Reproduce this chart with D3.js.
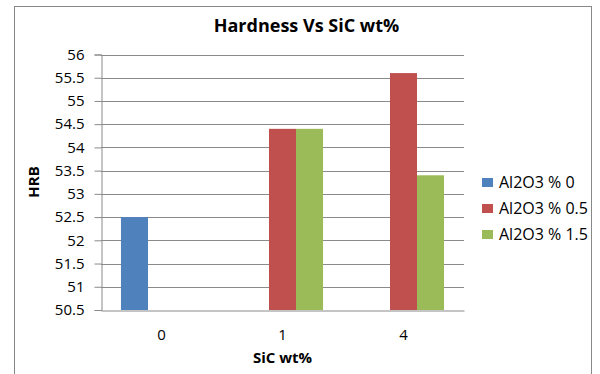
<!DOCTYPE html>
<html>
<head>
<meta charset="utf-8">
<script src="https://cdn.jsdelivr.net/npm/d3@7"></script>
<style>
  html, body { margin: 0; padding: 0; background: #fff; }
  svg { display: block; font-family: "Open Sans", Lato, sans-serif; }
</style>
</head>
<body>
<svg id="chart" width="600" height="374"></svg>
<script>
// Hardness (HRB) against SiC content, grouped by Al2O3 content
const categories = ["0", "1", "4"];
const seriesNames = ["Al2O3 % 0", "Al2O3 % 0.5", "Al2O3 % 1.5"];
const seriesColors = ["#4F81BD", "#C0504D", "#9BBB59"];
const hardnessAl0 = [52.5, null, null];
const hardnessAl05 = [null, 54.4, 55.6];
const hardnessAl15 = [null, 54.4, 53.4];
const yTicks = [50.5, 51, 51.5, 52, 52.5, 53, 53.5, 54, 54.5, 55, 55.5, 56];

const seriesValues = [hardnessAl0, hardnessAl05, hardnessAl15];

const svg = d3.select("#chart");
const plot = { left: 101, right: 464, top: 54.5, bottom: 310 };
const font = "'Open Sans', Lato, sans-serif";

// chart frame
svg.append("rect")
  .attr("x", 14.5).attr("y", 6.5)
  .attr("width", 577).attr("height", 380)
  .attr("fill", "#fff").attr("stroke", "#888").attr("stroke-width", 1);

const x = d3.scaleBand().domain(categories)
  .range([plot.left, plot.right]).paddingInner(0.33).paddingOuter(0.165);
const xs = d3.scaleBand().domain(d3.range(seriesNames.length))
  .range([0, x.bandwidth()]);
const y = d3.scaleLinear().domain([50.5, 56]).range([plot.bottom, plot.top]);

// gridlines
svg.append("g")
  .selectAll("line").data(yTicks.slice(1)).join("line")
  .attr("x1", plot.left).attr("x2", plot.right)
  .attr("y1", d => Math.round(y(d)) + 0.5).attr("y2", d => Math.round(y(d)) + 0.5)
  .attr("stroke", "#8a8a8a").attr("stroke-width", 1);

// bars
const groups = svg.append("g").selectAll("g").data(categories).join("g")
  .attr("transform", d => `translate(${x(d)},0)`);
groups.selectAll("rect")
  .data((c, ci) => seriesValues.map((vals, si) => ({ si, v: vals[ci] })).filter(d => d.v != null))
  .join("rect")
  .attr("x", d => xs(d.si))
  .attr("width", xs.bandwidth())
  .attr("y", d => y(d.v))
  .attr("height", d => y(50.5) - y(d.v))
  .attr("fill", d => seriesColors[d.si]);

// y axis
const yAxis = d3.axisLeft(y).tickValues(yTicks).tickSize(7).tickPadding(10)
  .tickFormat(d => String(d));
const gy = svg.append("g").attr("transform", `translate(${plot.left + 0.5},0)`).call(yAxis);
gy.select(".domain").attr("stroke", "#8a8a8a");
gy.selectAll(".tick line").attr("stroke", "#8a8a8a");
gy.selectAll(".tick text").attr("font-size", 15).attr("fill", "#000")
  .attr("font-family", font);

// x axis
const xAxis = d3.axisBottom(x).tickSize(0).tickPadding(19);
const gx = svg.append("g").attr("transform", `translate(0,${plot.bottom + 0.5})`).call(xAxis);
gx.select(".domain").attr("stroke", "#8a8a8a");
gx.selectAll(".tick text").attr("font-size", 15).attr("fill", "#000")
  .attr("font-family", font);

// title and axis titles
svg.append("text").attr("x", 306.5).attr("y", 32)
  .attr("text-anchor", "middle").attr("font-size", 18).attr("font-weight", "bold")
  .text("Hardness Vs SiC wt%");
svg.append("text").attr("x", 282.5).attr("y", 363)
  .attr("text-anchor", "middle").attr("font-size", 15).attr("font-weight", "bold")
  .text("SiC wt%");
svg.append("text")
  .attr("transform", "translate(39,182) rotate(-90)")
  .attr("text-anchor", "middle").attr("font-size", 15).attr("font-weight", "bold")
  .text("HRB");

// legend
const legend = svg.append("g").selectAll("g").data(seriesNames).join("g")
  .attr("transform", (d, i) => `translate(482,${178 + i * 26})`);
legend.append("rect").attr("width", 11).attr("height", 9)
  .attr("fill", (d, i) => seriesColors[i]);
legend.append("text").attr("x", 17).attr("y", 9.5)
  .attr("font-size", 16).text(d => d);
</script>
</body>
</html>
